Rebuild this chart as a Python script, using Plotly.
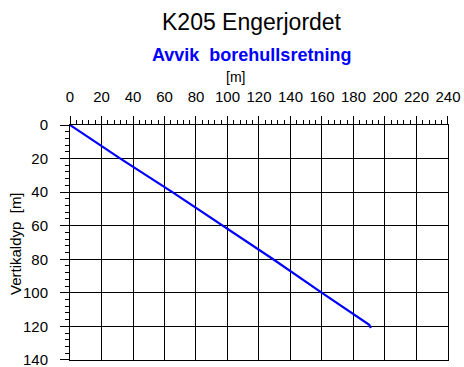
import plotly.graph_objects as go

# Borehole deviation: horizontal offset vs vertical depth (m)
offset_m = [0, 32, 65, 97, 129, 160, 190, 191]
depth_m = [0, 20, 40, 60, 80, 100, 119, 121]

title_text = "K205 Engerjordet"
subtitle_text = "Avvik  borehullsretning"
x_unit_text = "[m]"
y_title_text = "Vertikaldyp  [m]"

FONT = "Liberation Sans, Arial, sans-serif"

W, H = 464, 367
L, R, T, B = 70, 16, 125, 7
pw, ph = W - L - R, H - T - B


def px(x):
    return (x - L) / pw


def py(y):
    return (H - B - y) / ph


fig = go.Figure()
fig.add_trace(go.Scatter(
    x=offset_m, y=depth_m, mode="lines",
    line=dict(color="#0000ff", width=2.2),
    hoverinfo="skip", showlegend=False,
))

fig.update_layout(
    width=W, height=H,
    margin=dict(l=L, r=R, t=T, b=B, pad=0, autoexpand=False),
    paper_bgcolor="white", plot_bgcolor="white",
    font=dict(family=FONT, color="black", size=15),
    xaxis=dict(
        side="top", range=[0, 240.01], tick0=0, dtick=20, automargin=False,
        showgrid=True, gridcolor="black", gridwidth=1,
        showline=True, linecolor="black", linewidth=1, mirror=True,
        ticks="outside", ticklen=8, tickcolor="black", tickwidth=1,
        ticklabelstandoff=8, ticklabeloverflow="allow",
        minor=dict(dtick=4, ticks="outside", ticklen=4, tickcolor="black", showgrid=False),
        zeroline=False, tickfont=dict(size=15),
    ),
    yaxis=dict(
        range=[140.02, 0], tick0=0, dtick=20, automargin=False,
        showgrid=True, gridcolor="black", gridwidth=1,
        showline=True, linecolor="black", linewidth=1, mirror=True,
        ticks="outside", ticklen=9, tickcolor="black", tickwidth=1,
        ticklabelstandoff=9, ticklabeloverflow="allow",
        minor=dict(dtick=4, ticks="outside", ticklen=4, tickcolor="black", showgrid=False),
        zeroline=False, tickfont=dict(size=15),
    ),
    annotations=[
        dict(text=title_text, x=px(252), y=py(22), xref="paper", yref="paper",
             xanchor="center", yanchor="middle", showarrow=False,
             font=dict(size=23, color="black")),
        dict(text="<b>" + subtitle_text + "</b>", x=px(251.5), y=py(55),
             xref="paper", yref="paper", xanchor="center", yanchor="middle",
             showarrow=False, font=dict(size=18, color="#0000ff")),
        dict(text=x_unit_text, x=px(235), y=py(77), xref="paper", yref="paper",
             xanchor="center", yanchor="middle", showarrow=False,
             font=dict(size=14, color="black")),
        dict(text=y_title_text, x=px(15), y=py(244), xref="paper", yref="paper",
             xanchor="center", yanchor="middle", showarrow=False, textangle=-90,
             font=dict(size=15, color="black")),
    ],
)

fig.write_html("out.html")
